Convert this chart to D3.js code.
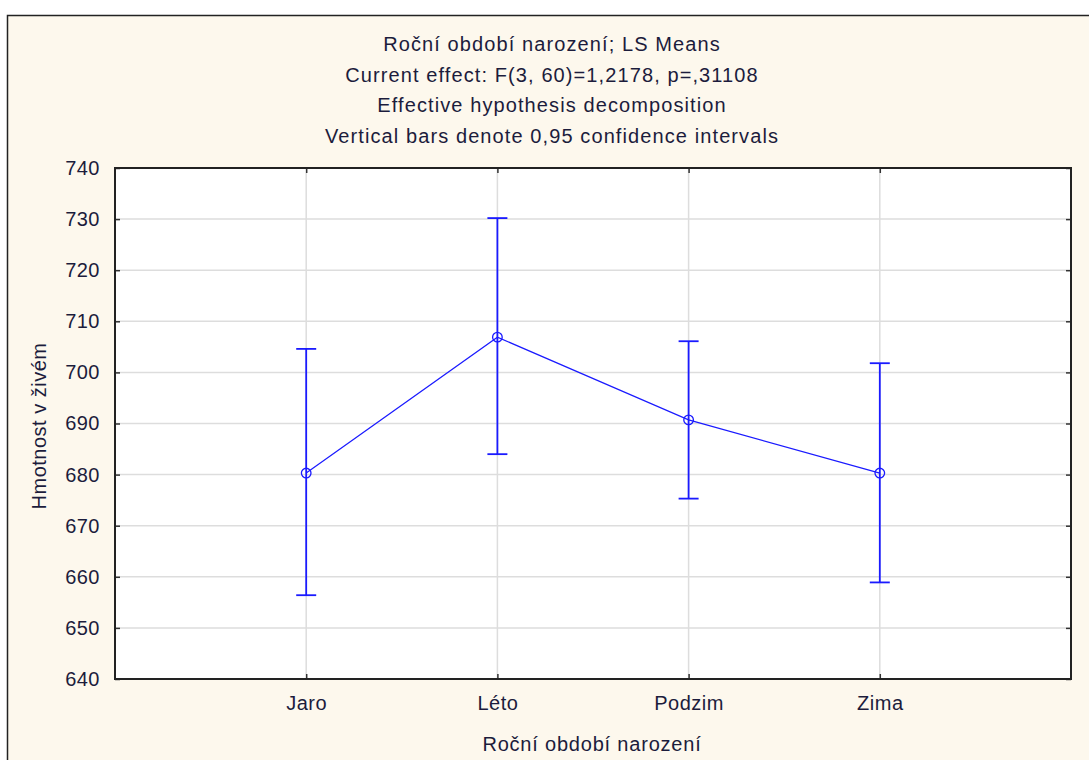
<!DOCTYPE html>
<html>
<head>
<meta charset="utf-8">
<script src="https://cdn.jsdelivr.net/npm/d3@7"></script>
<style>
  body { margin: 0; background: #ffffff; }
  text { font-family: "Liberation Sans", Arial, sans-serif; fill: #1c1c3c; }
</style>
</head>
<body>
<div id="chart"></div>
<script>
const seasons = ["Jaro", "Léto", "Podzim", "Zima"];
const means = [680.3, 706.9, 690.7, 680.3];
const upper = [704.6, 730.2, 706.1, 701.8];
const lower = [656.4, 684.0, 675.3, 658.9];
const yTicks = [640, 650, 660, 670, 680, 690, 700, 710, 720, 730, 740];
const titleLines = [
    "Roční období narození; LS Means",
    "Current effect: F(3, 60)=1,2178, p=,31108",
    "Effective hypothesis decomposition",
    "Vertical bars denote 0,95 confidence intervals"
];

const width = 1089, height = 760;
const margin = {top: 168, left: 115, right: 18, bottom: 81};

const svg = d3.select("#chart").append("svg")
    .attr("width", width)
    .attr("height", height);

// outer panel
svg.append("rect")
    .attr("x", 7.5).attr("y", 15.5)
    .attr("width", width).attr("height", height)
    .attr("fill", "#fdf8ed")
    .attr("stroke", "#222")
    .attr("stroke-width", 1.5);

const data = seasons.map((s, i) => ({season: s, mean: means[i], hi: upper[i], lo: lower[i]}));

const xScale = d3.scalePoint()
    .domain(seasons)
    .range([margin.left, width - margin.right])
    .padding(1);

const yScale = d3.scaleLinear()
    .domain([640, 740])
    .range([height - margin.bottom, margin.top]);

const x0 = margin.left, x1 = width - margin.right;
const y0 = height - margin.bottom, y1 = margin.top;

// plot area
svg.append("rect")
    .attr("x", x0).attr("y", y1)
    .attr("width", x1 - x0).attr("height", y0 - y1)
    .attr("fill", "#ffffff");

// gridlines
svg.append("g").selectAll("line")
    .data(yTicks.slice(1, -1))
    .join("line")
    .attr("x1", x0).attr("x2", x1)
    .attr("y1", d => yScale(d)).attr("y2", d => yScale(d))
    .attr("stroke", "#dddddd").attr("stroke-width", 1.5);

svg.append("g").selectAll("line")
    .data(seasons)
    .join("line")
    .attr("x1", d => xScale(d)).attr("x2", d => xScale(d))
    .attr("y1", y1).attr("y2", y0)
    .attr("stroke", "#dddddd").attr("stroke-width", 1.5);

// axes with inward ticks
const yAxis = svg.append("g")
    .attr("transform", `translate(${x0},0)`)
    .call(d3.axisLeft(yScale).tickValues(yTicks).tickSize(-5).tickPadding(15));

svg.append("g")
    .attr("transform", `translate(${x1},0)`)
    .call(d3.axisRight(yScale).tickValues(yTicks).tickSize(-5).tickFormat(""));

const xAxis = svg.append("g")
    .attr("transform", `translate(0,${y0})`)
    .call(d3.axisBottom(xScale).tickSize(-5).tickPadding(17));

svg.append("g")
    .attr("transform", `translate(0,${y1})`)
    .call(d3.axisTop(xScale).tickSize(-5).tickFormat(""));

svg.selectAll(".domain").remove();
svg.selectAll(".tick line").attr("stroke", "#333").attr("stroke-width", 1.5);
svg.selectAll(".tick text")
    .attr("fill", "#1c1c3c")
    .style("font-family", "'Liberation Sans', Arial, sans-serif")
    .style("font-size", "20px")
    .style("letter-spacing", "0.5px");

// plot frame
svg.append("rect")
    .attr("x", x0).attr("y", y1)
    .attr("width", x1 - x0).attr("height", y0 - y1)
    .attr("fill", "none")
    .attr("stroke", "#222")
    .attr("stroke-width", 2);

// error bars
const blue = "#1a1aff";
const bars = svg.append("g").selectAll("g")
    .data(data)
    .join("g");

bars.append("line")
    .attr("x1", d => xScale(d.season)).attr("x2", d => xScale(d.season))
    .attr("y1", d => yScale(d.lo)).attr("y2", d => yScale(d.hi))
    .attr("stroke", blue).attr("stroke-width", 1.8);

bars.selectAll("line.cap")
    .data(d => [{x: xScale(d.season), y: yScale(d.lo)}, {x: xScale(d.season), y: yScale(d.hi)}])
    .join("line")
    .attr("class", "cap")
    .attr("x1", d => d.x - 10).attr("x2", d => d.x + 10)
    .attr("y1", d => d.y).attr("y2", d => d.y)
    .attr("stroke", blue).attr("stroke-width", 1.8);

// mean line
const line = d3.line()
    .x(d => xScale(d.season))
    .y(d => yScale(d.mean));

svg.append("path")
    .datum(data)
    .attr("d", line)
    .attr("fill", "none")
    .attr("stroke", blue)
    .attr("stroke-width", 1.2);

svg.append("g").selectAll("circle")
    .data(data)
    .join("circle")
    .attr("cx", d => xScale(d.season))
    .attr("cy", d => yScale(d.mean))
    .attr("r", 4.8)
    .attr("fill", "none")
    .attr("stroke", blue)
    .attr("stroke-width", 1.3);

// title
svg.append("g").selectAll("text")
    .data(titleLines)
    .join("text")
    .attr("x", 552)
    .attr("y", (d, i) => 51 + i * 30.7)
    .attr("text-anchor", "middle")
    .style("font-size", "20px")
    .style("letter-spacing", "1.1px")
    .text(d => d);

// axis labels
svg.append("text")
    .attr("x", 592)
    .attr("y", 751)
    .attr("text-anchor", "middle")
    .style("font-size", "20px")
    .style("letter-spacing", "0.8px")
    .text("Roční období narození");

svg.append("text")
    .attr("transform", "rotate(-90)")
    .attr("x", -426)
    .attr("y", 46)
    .attr("text-anchor", "middle")
    .style("font-size", "20px")
    .style("letter-spacing", "0.5px")
    .text("Hmotnost v živém");
</script>
</body>
</html>
